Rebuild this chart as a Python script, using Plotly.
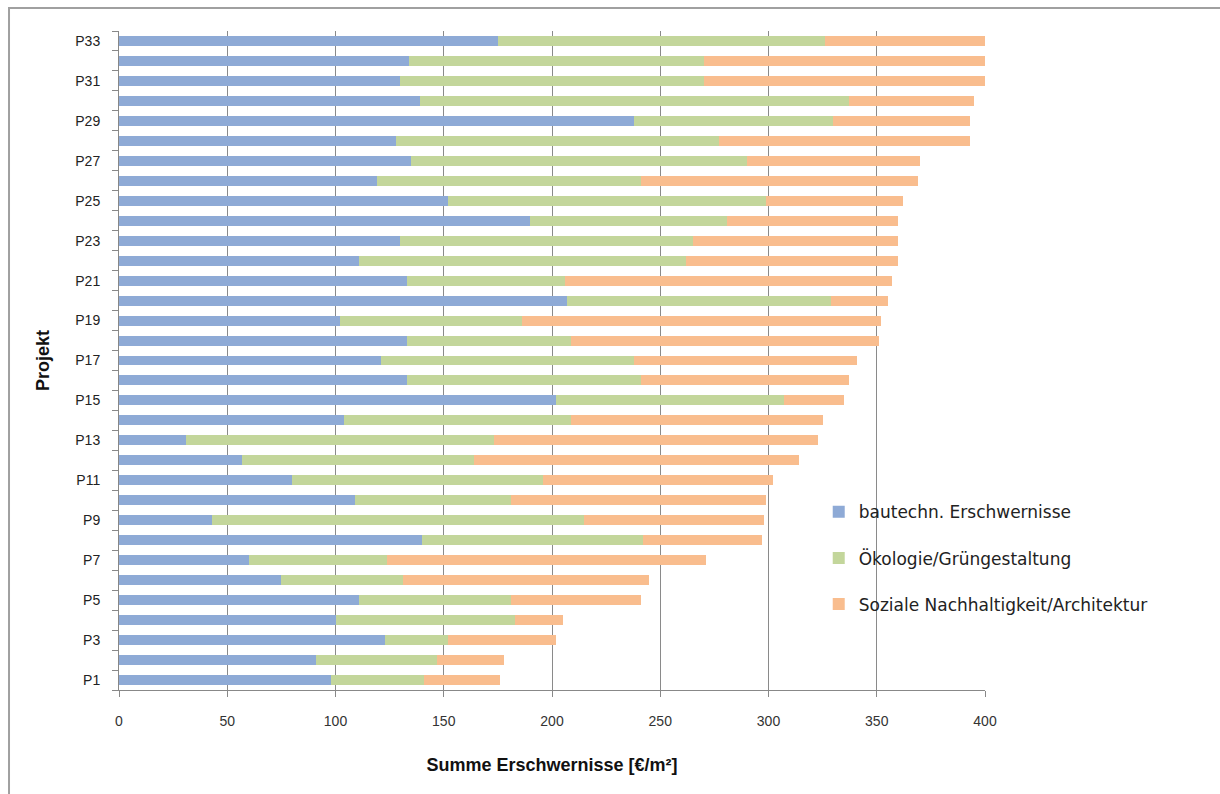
import plotly.graph_objects as go

# Projects P1..P33 and the three cost components (€/m²)
projekte = [f"P{i}" for i in range(1, 34)]

bautechn = [98, 91, 123, 100, 111, 75, 60, 140, 43, 109, 80, 57, 31, 104, 202,
            133, 121, 133, 102, 207, 133, 111, 130, 190, 152, 119, 135, 128, 238,
            139, 130, 134, 175]
oekologie = [43, 56, 29, 83, 70, 56, 64, 102, 172, 72, 116, 107, 142, 105, 105,
             108, 117, 76, 84, 122, 73, 151, 135, 91, 147, 122, 155, 149, 92,
             198, 140, 136, 151]
soziales = [35, 31, 50, 22, 60, 114, 147, 55, 83, 118, 106, 150, 150, 116, 28,
            96, 103, 142, 166, 26, 151, 98, 95, 79, 63, 128, 80, 116, 63,
            58, 130, 130, 74]

serien = [
    ("bautechn. Erschwernisse", bautechn, "#8EAAD6"),
    ("Ökologie/Grüngestaltung", oekologie, "#C3D69B"),
    ("Soziale Nachhaltigkeit/Architektur", soziales, "#F9BD8E"),
]

tick_text = [p if i % 2 == 0 else "" for i, p in enumerate(projekte)]
x_ticks = [0, 50, 100, 150, 200, 250, 300, 350, 400]

fig = go.Figure()
for i, (name, values, color) in enumerate(serien):
    fig.add_trace(go.Bar(
        y=projekte, x=values, name=name, orientation="h",
        marker=dict(color=color, line=dict(width=0)),
        legendgroup=f"g{i}",
    ))

font_family = "Liberation Sans, Arial, sans-serif"

fig.update_layout(
    width=1220, height=794,
    barmode="stack", bargap=0.5,
    paper_bgcolor="white", plot_bgcolor="white",
    margin=dict(l=119, r=235, t=31, b=104),
    font=dict(family=font_family, color="#222222"),
    showlegend=True,
    legend=dict(
        x=0.808, y=0.297, xanchor="left", yanchor="top",
        bgcolor="rgba(0,0,0,0)", traceorder="grouped",
        tracegroupgap=21,
        font=dict(family="DejaVu Sans, sans-serif", size=17, color="#222222"),
        itemwidth=30,
    ),
    xaxis=dict(
        range=[0, 400], tickvals=x_ticks, ticks="outside", ticklen=6,
        tickcolor="#888888", showgrid=True, gridcolor="#8A8A8A", gridwidth=1,
        showline=True, linecolor="#888888", linewidth=1, zeroline=False,
        tickfont=dict(size=14, color="#333333"), ticklabelstandoff=12,
        title=dict(text="<b>Summe Erschwernisse [€/m²]</b>", standoff=30,
                   font=dict(size=18, color="#111111")),
    ),
    yaxis=dict(
        type="category", categoryorder="array", categoryarray=projekte,
        tickvals=projekte, ticktext=tick_text, tickson="boundaries",
        ticks="outside", ticklen=6, tickcolor="#888888",
        showline=True, linecolor="#888888", linewidth=1, showgrid=False,
        tickfont=dict(size=14, color="#222222"), ticklabelstandoff=15,
        title=dict(text="<b>Projekt</b>", standoff=20,
                   font=dict(size=18, color="#111111")),
    ),
    shapes=[dict(
        type="rect", xref="paper", yref="paper",
        x0=-0.127, x1=1.3, y0=-0.2, y1=1.035,
        line=dict(color="#A0A0A0", width=2), fillcolor="rgba(0,0,0,0)",
        layer="below",
    )],
)

fig.write_html("out.html")
